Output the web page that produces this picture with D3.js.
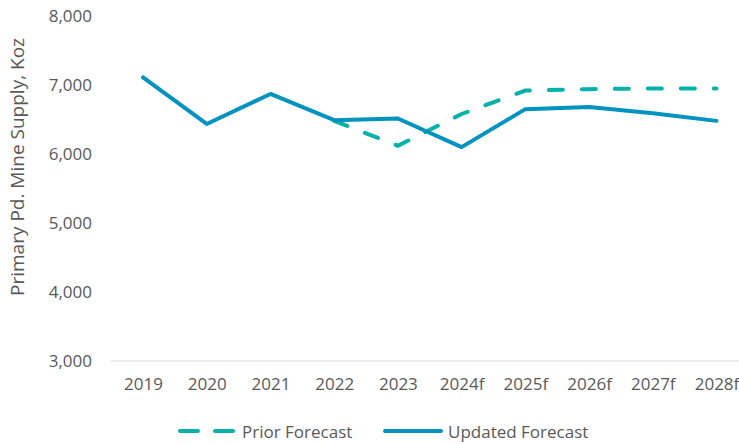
<!DOCTYPE html>
<html><head><meta charset="utf-8">
<script src="https://cdn.jsdelivr.net/npm/d3@7/dist/d3.min.js"></script>
<style>body{margin:0;background:#fff;}svg{display:block;}</style>
</head><body><svg id="c" width="739" height="444"></svg>
<script>
const categories = ["2019","2020","2021","2022","2023","2024f","2025f","2026f","2027f","2028f"];
const priorForecast = [null,null,null,6480,6120,6580,6920,6940,6950,6950];
const updatedForecast = [7110,6435,6870,6490,6515,6100,6650,6680,6590,6480];
const yTicks = [3000,4000,5000,6000,7000,8000];
const seriesNames = ["Prior Forecast","Updated Forecast"];

const colPrior = "#00B2A9", colUpd = "#0093BF", txt = "#595959";
const font = "'Open Sans', sans-serif";
const svg = d3.select("#c");
const x = d3.scalePoint().domain(categories).range([143, 716.5]);
const y = d3.scaleLinear().domain([3000, 8000]).range([361, 16]);

// baseline
svg.append("line").attr("x1",111).attr("x2",739).attr("y1",y(3000)).attr("y2",y(3000))
  .attr("stroke","#d9d9d9").attr("stroke-width",1);

// y axis
const ya = svg.append("g").attr("transform","translate(92,0)")
  .call(d3.axisLeft(y).tickValues(yTicks).tickSize(0).tickPadding(0).tickFormat(d3.format(",")));
ya.select(".domain").remove();
ya.selectAll("text").attr("font-family",font).attr("font-size",17).attr("fill",txt);

// x axis
const xa = svg.append("g").attr("transform","translate(0,378)")
  .call(d3.axisBottom(x).tickSize(0).tickPadding(0));
xa.select(".domain").remove();
xa.selectAll("text").attr("font-family",font).attr("font-size",17).attr("fill",txt);

// y title
svg.append("text").attr("transform","translate(17,167) rotate(-90)")
  .attr("text-anchor","middle").attr("dominant-baseline","central")
  .attr("font-family",font).attr("font-size",19).attr("fill",txt)
  .text("Primary Pd. Mine Supply, Koz");

const line = d3.line().defined(d => d[1] != null).x(d => x(d[0])).y(d => y(d[1]));
svg.append("path").datum(categories.map((c,i)=>[c,priorForecast[i]]))
  .attr("d",line).attr("fill","none").attr("stroke",colPrior).attr("stroke-width",4)
  .attr("stroke-dasharray","14,19").attr("stroke-linecap","round");
svg.append("path").datum(categories.map((c,i)=>[c,updatedForecast[i]]))
  .attr("d",line).attr("fill","none").attr("stroke",colUpd).attr("stroke-width",4)
  .attr("stroke-linejoin","round").attr("stroke-linecap","round");

// legend
const ly = 431;
const lg = svg.append("g");
lg.append("line").attr("x1",180).attr("x2",234).attr("y1",ly).attr("y2",ly)
  .attr("stroke",colPrior).attr("stroke-width",4).attr("stroke-linecap","round")
  .attr("stroke-dasharray","18,17");
lg.append("text").attr("x",242).attr("y",ly).attr("dominant-baseline","central")
  .attr("font-family",font).attr("font-size",17).attr("fill",txt).text(seriesNames[0]);
lg.append("line").attr("x1",385).attr("x2",441).attr("y1",ly).attr("y2",ly)
  .attr("stroke",colUpd).attr("stroke-width",4).attr("stroke-linecap","round");
lg.append("text").attr("x",448).attr("y",ly).attr("dominant-baseline","central")
  .attr("font-family",font).attr("font-size",17).attr("fill",txt).text(seriesNames[1]);
</script></body></html>
